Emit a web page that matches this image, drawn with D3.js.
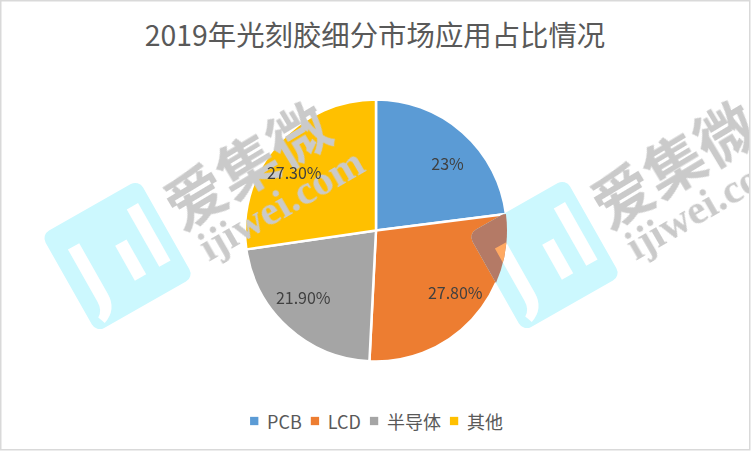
<!DOCTYPE html>
<html><head><meta charset="utf-8">
<script src="https://cdn.jsdelivr.net/npm/d3@7/dist/d3.min.js"></script>
<style>
html,body{margin:0;padding:0;background:#fff;}
svg{display:block;font-family:"Noto Sans CJK SC","Noto Sans",sans-serif;}
</style></head>
<body><svg id="c" width="752" height="452"></svg>
<script>
const title = "2019年光刻胶细分市场应用占比情况";
const categories = ["PCB", "LCD", "半导体", "其他"];
const values = [23, 27.8, 21.9, 27.3];
const labels = ["23%", "27.80%", "21.90%", "27.30%"];
const colors = ["#5B9BD5", "#ED7D31", "#A5A5A5", "#FFC000"];

const W = 752, H = 452;
const svg = d3.select("#c");
svg.append("rect").attr("width", W).attr("height", H).attr("fill", "#fff");

// title
svg.append("text").attr("x", 375).attr("y", 33)
  .attr("text-anchor", "middle").attr("dominant-baseline", "central")
  .attr("font-size", 28.4).attr("fill", "#595959").text(title);

// pie slices
const cx = 376, cy = 230.5, R = 131;
const pie = d3.pie().sort(null).value(d => d)(values);
const arc = d3.arc().innerRadius(0).outerRadius(R);
const labelArc = d3.arc().innerRadius(102).outerRadius(102);
const slices = svg.append("g").attr("transform", `translate(${cx},${cy})`);
slices.selectAll("path").data(pie).join("path")
  .attr("d", arc).attr("fill", (d, i) => colors[i])
  .attr("stroke", "#fff").attr("stroke-width", 2.5).attr("stroke-linejoin", "round");

// legend
const leg = svg.append("g");
const items = leg.selectAll("g").data(categories).join("g");
items.append("rect").attr("width", 8.3).attr("height", 8.3).attr("y", -4.15)
  .attr("fill", (d, i) => colors[i]);
items.append("text").attr("x", 17).attr("dominant-baseline", "central")
  .attr("font-size", 18).attr("fill", "#595959").text(d => d);
let xs = [], acc = 0;
items.each(function () {
  const w = 17 + this.querySelector("text").getComputedTextLength();
  xs.push(acc); acc += w + 9;
});
acc -= 9;
const lx0 = 376.5 - acc / 2;
items.attr("transform", (d, i) => `translate(${lx0 + xs[i]},421)`);

// watermark
const defs = svg.append("defs");
defs.append("clipPath").attr("id", "orangeClip").append("path")
  .attr("transform", `translate(${cx},${cy})`).attr("d", arc(pie[1]));
defs.append("clipPath").attr("id", "frameClip").append("rect")
  .attr("x", 1).attr("y", 1).attr("width", 748).attr("height", 448);

function logo(sel, bg, fg) {
  sel.append("rect").attr("x", -56).attr("y", -56).attr("width", 112).attr("height", 112)
    .attr("rx", 9).attr("fill", bg);
  sel.append("path").attr("fill", fg)
    .attr("d", "M-40,-30H-27V28Q-27,46-44,52L-47,44Q-40,40-40,30Z");
  sel.append("rect").attr("x", 3).attr("y", -10).attr("width", 13).attr("height", 40).attr("fill", fg);
  sel.append("rect").attr("x", 31).attr("y", -36).attr("width", 13).attr("height", 66).attr("fill", fg);
}
const shifts = [[0, 0], [427, -1]];
const wm = svg.append("g").attr("clip-path", "url(#frameClip)");
shifts.forEach(([sx, sy]) => {
  const lg = wm.append("g").attr("transform", `translate(${117.5 + sx},${256 + sy}) rotate(-29.5)`);
  logo(lg, "#CCF8FE", "#FFFFFF");
  const og = wm.append("g").attr("clip-path", "url(#orangeClip)")
    .append("g").attr("transform", `translate(${117.5 + sx},${256 + sy}) rotate(-29.5)`);
  logo(og, "#B47A66", "#FFA962");
  wm.append("text").attr("transform", `translate(${245 + sx},${162 + sy}) rotate(-31)`)
    .attr("text-anchor", "middle").attr("dominant-baseline", "central")
    .attr("font-size", 60).attr("font-weight", 700).attr("fill", "#CACACA")
    .style("mix-blend-mode", "multiply").text("爱集微");
  wm.append("text").attr("transform", `translate(${281 + sx},${204 + sy}) rotate(-30)`)
    .attr("text-anchor", "middle").attr("dominant-baseline", "central")
    .attr("font-family", "'Liberation Serif',serif")
    .attr("font-size", 42).attr("font-weight", 700).attr("fill", "#CACACA")
    .style("mix-blend-mode", "multiply").text("ijiwei.com");
});

// data labels, above the watermark
const lab = svg.append("g").attr("transform", `translate(${cx},${cy})`);
lab.selectAll("text").data(pie).join("text")
  .attr("x", d => labelArc.centroid(d)[0] * 1.06)
  .attr("y", d => labelArc.centroid(d)[1] * 0.88)
  .attr("text-anchor", "middle").attr("dominant-baseline", "central")
  .attr("font-size", 16).attr("fill", "#404040")
  .text((d, i) => labels[i]);

// frame
svg.append("rect").attr("x", 0.75).attr("y", 0.75).attr("width", 749).attr("height", 449)
  .attr("fill", "none").attr("stroke", "#D9D9D9").attr("stroke-width", 1.5);
</script></body></html>
